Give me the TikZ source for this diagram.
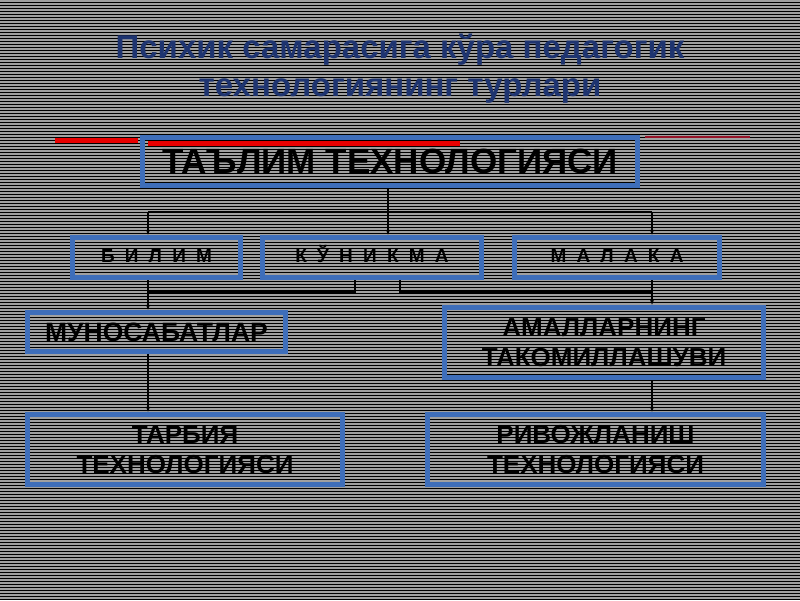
\documentclass[tikz,border=0pt]{standalone}
\usepackage{fontspec}
\setmainfont{Liberation Sans}
\usetikzlibrary{arrows.meta}
\usetikzlibrary{positioning}
\usetikzlibrary{calc}
\definecolor{boxblue}{RGB}{62,110,186}
\definecolor{titleblue}{RGB}{30,52,112}
\definecolor{stripe}{RGB}{160,160,160}
\definecolor{redbar}{RGB}{232,0,0}
\definecolor{darkred}{RGB}{150,20,40}
\newcommand{\spaced}[1]{{\addfontfeature{LetterSpace=26}#1}}

\begin{document}
\begin{tikzpicture}[x=1pt,y=-1pt,
    box/.style={draw=boxblue,line width=5.5pt,inner sep=0pt,align=center,font=\bfseries},
    smallbox/.style={minimum height=40,text height=14pt,text depth=4pt,font=\fontsize{19}{22}\selectfont\bfseries},
    arr/.style={-{Stealth[length=5pt,width=4pt]},line width=1.1pt}]
  \useasboundingbox (0,0) rectangle (800,600);
  % background stripes
  \fill[black] (0,0) rectangle (800,600);
  \foreach \y in {1,4,...,600}
  {
    \draw[stripe,line width=1.5pt] (0,\y) -- (800,\y);
  }
  % title
  \node[text=titleblue,font=\fontsize{33}{38}\selectfont\bfseries,align=center] (title) at (400,69)
    {Психик самарасига кўра педагогик\\технологиянинг турлари};
  % red bars
  \draw[redbar,line width=5pt] (55,140) -- (138,140);
  \draw[darkred,line width=1.5pt] (645,137) -- (750,137);
  % boxes
  \begin{scope}[every node/.style={box}]
    \node[minimum width=495,minimum height=48,font=\fontsize{35}{38}\selectfont\bfseries] (main) at (390,161.5) {ТАЪЛИМ ТЕХНОЛОГИЯСИ};
    \node[smallbox,minimum width=168] (bilim) at (156.5,257.5) {\spaced{Б И Л И М}};
    \node[smallbox,minimum width=219] (kunikma) at (372,257.5) {\spaced{К Ў Н И К М А}};
    \node[smallbox,minimum width=205] (malaka) at (617,257.5) {\spaced{М А Л А К А}};
    \node[minimum width=258,minimum height=39,font=\fontsize{26.5}{30}\selectfont\bfseries] (munos) at (156.5,332) {МУНОСАБАТЛАР};
    \node[minimum width=319,minimum height=70,font=\fontsize{26}{30}\selectfont\bfseries] (amal) at (604,342.5) {АМАЛЛАРНИНГ\\ТАКОМИЛЛАШУВИ};
    \node[minimum width=315,minimum height=70,font=\fontsize{26}{30}\selectfont\bfseries] (tarbiya) at (185,449.5) {ТАРБИЯ\\ТЕХНОЛОГИЯСИ};
    \node[minimum width=336,minimum height=70,font=\fontsize{26}{30}\selectfont\bfseries] (rivoj) at (595.5,449.5) {РИВОЖЛАНИШ\\ТЕХНОЛОГИЯСИ};
  \end{scope}
  \draw[redbar,line width=5pt] (148,143) -- (460,143);
  % connectors
  \coordinate (top) at (388,212);
  \coordinate (topl) at (148,212);
  \coordinate (topr) at (652,212);
  \coordinate (midl) at (148,292);
  \coordinate (midr) at (652,292);
  \coordinate (kl) at (355,292);
  \coordinate (kr) at (400,292);
  \draw[line width=1.1pt] (main.south -| top) -- (top);
  \draw[line width=1.1pt] (topl) -- (topr);
  \draw[arr] (topl) -- (topl |- bilim.north);
  \draw[arr] (top) -- (top |- kunikma.north);
  \draw[arr] (topr) -- (topr |- malaka.north);
  \draw[line width=1.1pt] (kl |- kunikma.south) -- (kl) -- (midl);
  \draw[line width=1.1pt] (kr |- kunikma.south) -- (kr) -- (midr);
  \draw[arr] (midl |- bilim.south) -- (midl |- munos.north);
  \draw[arr] (midr |- malaka.south) -- (midr |- amal.north);
  \draw[arr] (midl |- munos.south) -- (midl |- tarbiya.north);
  \draw[arr] (midr |- amal.south) -- (midr |- rivoj.north);
\end{tikzpicture}
\end{document}
